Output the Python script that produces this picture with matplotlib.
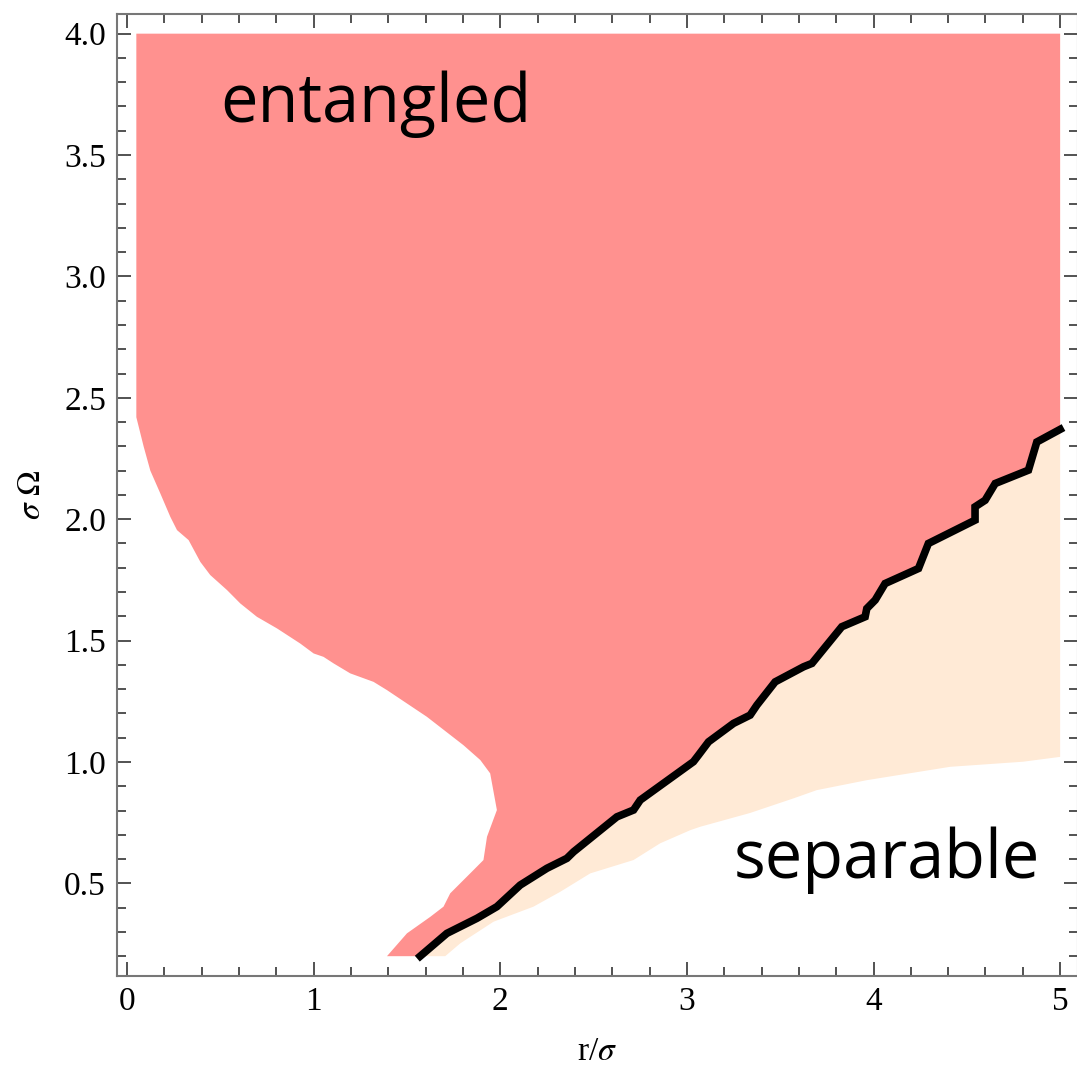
import matplotlib
matplotlib.use("Agg")
import matplotlib.pyplot as plt
import numpy as np
from matplotlib.ticker import MultipleLocator, FormatStrFormatter

plt.rcParams['font.family'] = ['Liberation Serif', 'DejaVu Serif']
plt.rcParams['mathtext.fontset'] = 'stix'
plt.rcParams['xtick.labelsize'] = 24
plt.rcParams['ytick.labelsize'] = 24

# left edge of the entangled region (top -> bottom)
ent_left_x = [0.05, 0.05, 0.089, 0.125, 0.178, 0.232, 0.268, 0.330, 0.393, 0.446, 0.536,
              0.607, 0.696, 0.804, 0.928, 1.0, 1.053, 1.107, 1.196, 1.321, 1.393, 1.607,
              1.803, 1.893, 1.946, 1.982, 1.929, 1.910, 1.857, 1.732, 1.696, 1.625, 1.500, 1.393]
ent_left_y = [4.0, 2.42, 2.30, 2.20, 2.107, 2.010, 1.955, 1.914, 1.824, 1.770, 1.708,
              1.653, 1.598, 1.550, 1.488, 1.447, 1.433, 1.406, 1.365, 1.330, 1.296, 1.186,
              1.069, 1.008, 0.953, 0.802, 0.692, 0.596, 0.555, 0.459, 0.404, 0.362, 0.294, 0.2]

# separability boundary (black line)
bnd_x = [1.571, 1.714, 1.875, 1.982, 2.107, 2.250, 2.357, 2.393, 2.625, 2.714, 2.750,
         3.035, 3.062, 3.116, 3.250, 3.339, 3.375, 3.473, 3.625, 3.670, 3.830, 3.955,
         3.964, 4.009, 4.062, 4.241, 4.294, 4.544, 4.544, 4.598, 4.652, 4.830, 4.875, 5.0]
bnd_y = [0.2, 0.294, 0.356, 0.404, 0.493, 0.562, 0.603, 0.630, 0.774, 0.802, 0.843,
         1.001, 1.028, 1.083, 1.159, 1.193, 1.234, 1.330, 1.392, 1.406, 1.557, 1.598,
         1.632, 1.667, 1.735, 1.797, 1.900, 1.996, 2.051, 2.078, 2.147, 2.202, 2.318, 2.37]

# lower edge of the separable region
sep_low_x = [1.705, 1.786, 1.964, 2.178, 2.321, 2.482, 2.714, 2.857, 3.018, 3.071, 3.339,
             3.571, 3.696, 3.964, 4.410, 4.801, 5.0]
sep_low_y = [0.2, 0.253, 0.342, 0.404, 0.465, 0.541, 0.596, 0.665, 0.719, 0.733, 0.790,
             0.850, 0.884, 0.925, 0.980, 1.001, 1.021]

x_max = 5.0
y_max = 4.0

fig = plt.figure(figsize=(10.77, 10.80), dpi=100)
ax = fig.add_axes([117 / 1077, 104.3 / 1080, 960.5 / 1077, 961.7 / 1080])

# entangled polygon
ex = [x_max] + bnd_x[::-1] + ent_left_x[::-1] + [x_max]
ey = [y_max] + bnd_y[::-1] + ent_left_y[::-1] + [y_max]
ax.fill(ex, ey, color='#FF918F', lw=0)

# separable polygon
sx = bnd_x + [x_max] + sep_low_x[::-1]
sy = bnd_y + [sep_low_y[-1]] + sep_low_y[::-1]
ax.fill(sx, sy, color='#FFEAD6', lw=0)

ax.plot(bnd_x, bnd_y, color='black', lw=5.5, solid_joinstyle='miter')

ax.set_xlim(-0.0536, 5.093)
ax.set_ylim(0.1196, 4.081)

ax.xaxis.set_major_locator(MultipleLocator(1))
ax.xaxis.set_minor_locator(MultipleLocator(0.2))
ax.yaxis.set_major_locator(MultipleLocator(0.5))
ax.yaxis.set_minor_locator(MultipleLocator(0.1))
ax.xaxis.set_major_formatter(FormatStrFormatter('%d'))
ax.yaxis.set_major_formatter(FormatStrFormatter('%.1f'))

ax.tick_params(which='both', direction='in', top=True, right=True,
               color='#444444', width=1.3, pad=8)
ax.tick_params(which='major', length=10)
ax.tick_params(which='minor', length=6.5)
for sp in ax.spines.values():
    sp.set_color('#777777')
    sp.set_linewidth(1.5)

ax.set_xlabel(r'r/$\sigma$', fontsize=24, labelpad=14)
ax.set_ylabel(r'$\sigma$ $\Omega$', fontsize=24, labelpad=12)

ax.text(0.50, 3.635, 'entangled', fontsize=48, family='Open Sans', ha='left', va='baseline')
ax.text(3.249, 0.522, 'separable', fontsize=48, family='Open Sans', ha='left', va='baseline')

plt.savefig('out.png', dpi=100)
